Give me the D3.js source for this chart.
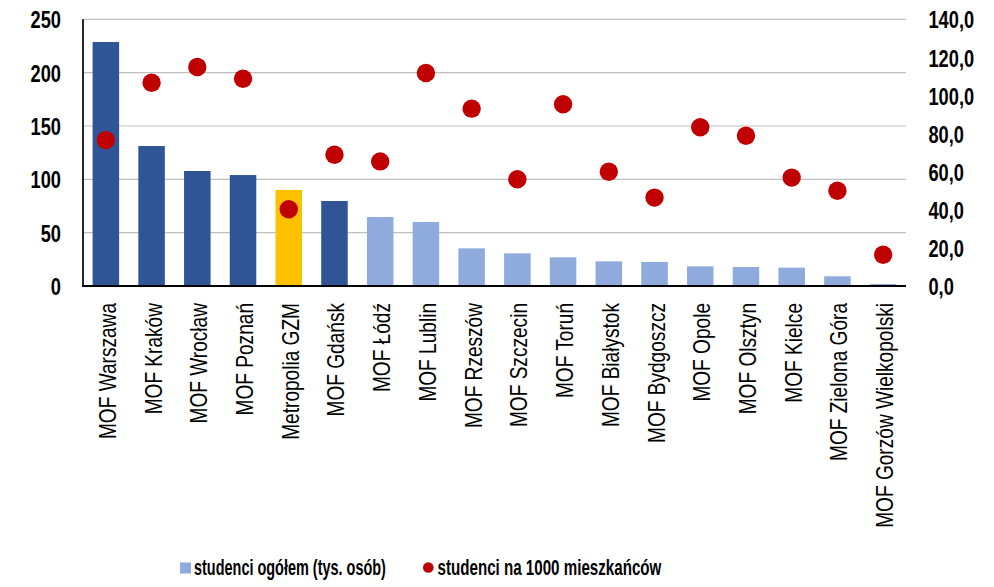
<!DOCTYPE html>
<html lang="pl">
<head>
<meta charset="utf-8">
<script src="https://cdn.jsdelivr.net/npm/d3@7"></script>
<style>
  html, body { margin: 0; padding: 0; background: #fff; }
  svg { display: block; font-family: "Liberation Sans", Arial, sans-serif; }
</style>
</head>
<body>
<svg id="chart" width="994" height="587"></svg>
<script>
// Studenci w miejskich obszarach funkcjonalnych
const categories = [
  "MOF Warszawa", "MOF Kraków", "MOF Wrocław", "MOF Poznań", "Metropolia GZM",
  "MOF Gdańsk", "MOF Łódź", "MOF Lublin", "MOF Rzeszów", "MOF Szczecin",
  "MOF Toruń", "MOF Białystok", "MOF Bydgoszcz", "MOF Opole", "MOF Olsztyn",
  "MOF Kielce", "MOF Zielona Góra", "MOF Gorzów Wielkopolski"
];
// studenci ogółem (tys. osób) – oś lewa
const studentsTotal = [
  228.7, 131.2, 107.8, 104.0, 90.0, 79.7, 64.7, 60.0, 35.3, 30.6,
  26.9, 23.1, 22.5, 18.4, 17.8, 17.2, 9.1, 1.9
];
// studenci na 1000 mieszkańców – oś prawa
const studentsPer1000 = [
  76.6, 106.7, 115.0, 108.8, 40.3, 68.9, 65.4, 111.8, 93.1, 56.0,
  95.4, 60.0, 46.4, 83.3, 78.9, 56.9, 50.0, 16.4
];
// grupa obszaru: największe MOF, GZM, pozostałe
const groups = [
  "duże", "duże", "duże", "duże", "GZM", "duże", "pozostałe", "pozostałe",
  "pozostałe", "pozostałe", "pozostałe", "pozostałe", "pozostałe", "pozostałe",
  "pozostałe", "pozostałe", "pozostałe", "pozostałe"
];
const leftTicks = [0, 50, 100, 150, 200, 250];
const rightTicks = [0, 20, 40, 60, 80, 100, 120, 140];
const legendLabels = ["studenci ogółem (tys. osób)", "studenci na 1000 mieszkańców"];

const svg = d3.select("#chart");
const plot = { left: 83, right: 906, top: 19.3, bottom: 286 };

const x = d3.scaleBand().domain(categories)
  .range([plot.left, plot.right]).paddingInner(0.42).paddingOuter(0.21);
const yLeft = d3.scaleLinear().domain([0, 250]).range([plot.bottom, plot.top]);
const yRight = d3.scaleLinear().domain([0, 140]).range([plot.bottom, plot.top]);
const color = d3.scaleOrdinal()
  .domain(["duże", "GZM", "pozostałe"])
  .range(["#2F5597", "#FFC000", "#8FAADC"]);
const plFormat = d3.formatLocale({ decimal: ",", thousands: " ", grouping: [3], currency: ["", " zł"] }).format(".1f");

// siatka pozioma
svg.append("g")
  .selectAll("line")
  .data(leftTicks.filter(d => d > 0))
  .join("line")
  .attr("x1", plot.left).attr("x2", plot.right)
  .attr("y1", d => yLeft(d)).attr("y2", d => yLeft(d))
  .attr("stroke", "#BFBFBF").attr("stroke-width", 1.2);

// słupki
svg.append("g")
  .selectAll("rect")
  .data(categories)
  .join("rect")
  .attr("x", d => x(d))
  .attr("width", x.bandwidth())
  .attr("y", (d, i) => yLeft(studentsTotal[i]))
  .attr("height", (d, i) => yLeft(0) - yLeft(studentsTotal[i]))
  .attr("fill", (d, i) => color(groups[i]));

// osie: lewa linia i linia bazowa
svg.append("line")
  .attr("x1", plot.left).attr("x2", plot.left)
  .attr("y1", plot.top).attr("y2", plot.bottom)
  .attr("stroke", "#000").attr("stroke-width", 1.7);
svg.append("line")
  .attr("x1", plot.left - 1).attr("x2", plot.right)
  .attr("y1", plot.bottom).attr("y2", plot.bottom)
  .attr("stroke", "#000").attr("stroke-width", 2.2);

// punkty
svg.append("g")
  .selectAll("circle")
  .data(categories)
  .join("circle")
  .attr("cx", d => x(d) + x.bandwidth() / 2)
  .attr("cy", (d, i) => yRight(studentsPer1000[i]))
  .attr("r", 9.2)
  .attr("fill", "#C00000");

const tickK = 0.76;
const tickPad = 22;

// oś lewa
const gLeft = svg.append("g")
  .attr("transform", `translate(${plot.left},0)`)
  .call(d3.axisLeft(yLeft).tickValues(leftTicks).tickSize(0).tickPadding(tickPad));
gLeft.select(".domain").remove();
gLeft.selectAll("text")
  .attr("x", -tickPad / tickK)
  .attr("dy", "0.36em")
  .attr("transform", `scale(${tickK},1)`)
  .attr("font-size", 24).attr("font-weight", "bold")
  .attr("font-family", "Liberation Sans, Arial, sans-serif")
  .attr("fill", "#000");

// oś prawa
const gRight = svg.append("g")
  .attr("transform", `translate(${plot.right},0)`)
  .call(d3.axisRight(yRight).tickValues(rightTicks).tickFormat(plFormat).tickSize(0).tickPadding(tickPad + 0.5));
gRight.select(".domain").remove();
gRight.selectAll("text")
  .attr("x", (tickPad + 0.5) / tickK)
  .attr("dy", "0.36em")
  .attr("transform", `scale(${tickK},1)`)
  .attr("font-size", 24).attr("font-weight", "bold")
  .attr("font-family", "Liberation Sans, Arial, sans-serif")
  .attr("fill", "#000");

// oś kategorii (etykiety pionowe)
const gBottom = svg.append("g")
  .attr("transform", `translate(0,${plot.bottom})`)
  .call(d3.axisBottom(x).tickSize(0));
gBottom.select(".domain").remove();
gBottom.selectAll("text")
  .attr("x", 0).attr("y", 0).attr("dy", null)
  .attr("text-anchor", "end")
  .attr("transform", "translate(10,17) rotate(-90) scale(0.83,1)")
  .attr("font-size", 23)
  .attr("font-family", "Liberation Sans, Arial, sans-serif")
  .attr("fill", "#000");

// legenda: tekst zwężony do zadanej szerokości
function condensedLabel(g, x0, y0, width, label) {
  const t = g.append("text")
    .attr("font-size", 22).attr("font-weight", "bold")
    .attr("fill", "#000")
    .text(label);
  const natural = t.node().getComputedTextLength();
  t.attr("transform", `translate(${x0},${y0}) scale(${width / natural},1)`);
}
const legend = svg.append("g");
legend.append("rect")
  .attr("x", 180).attr("y", 562.5).attr("width", 11).attr("height", 11)
  .attr("fill", color("pozostałe"));
condensedLabel(legend, 194, 575, 192, legendLabels[0]);
legend.append("circle")
  .attr("cx", 428.3).attr("cy", 567.5).attr("r", 5.3)
  .attr("fill", "#C00000");
condensedLabel(legend, 437.5, 575, 224, legendLabels[1]);
</script>
</body>
</html>
